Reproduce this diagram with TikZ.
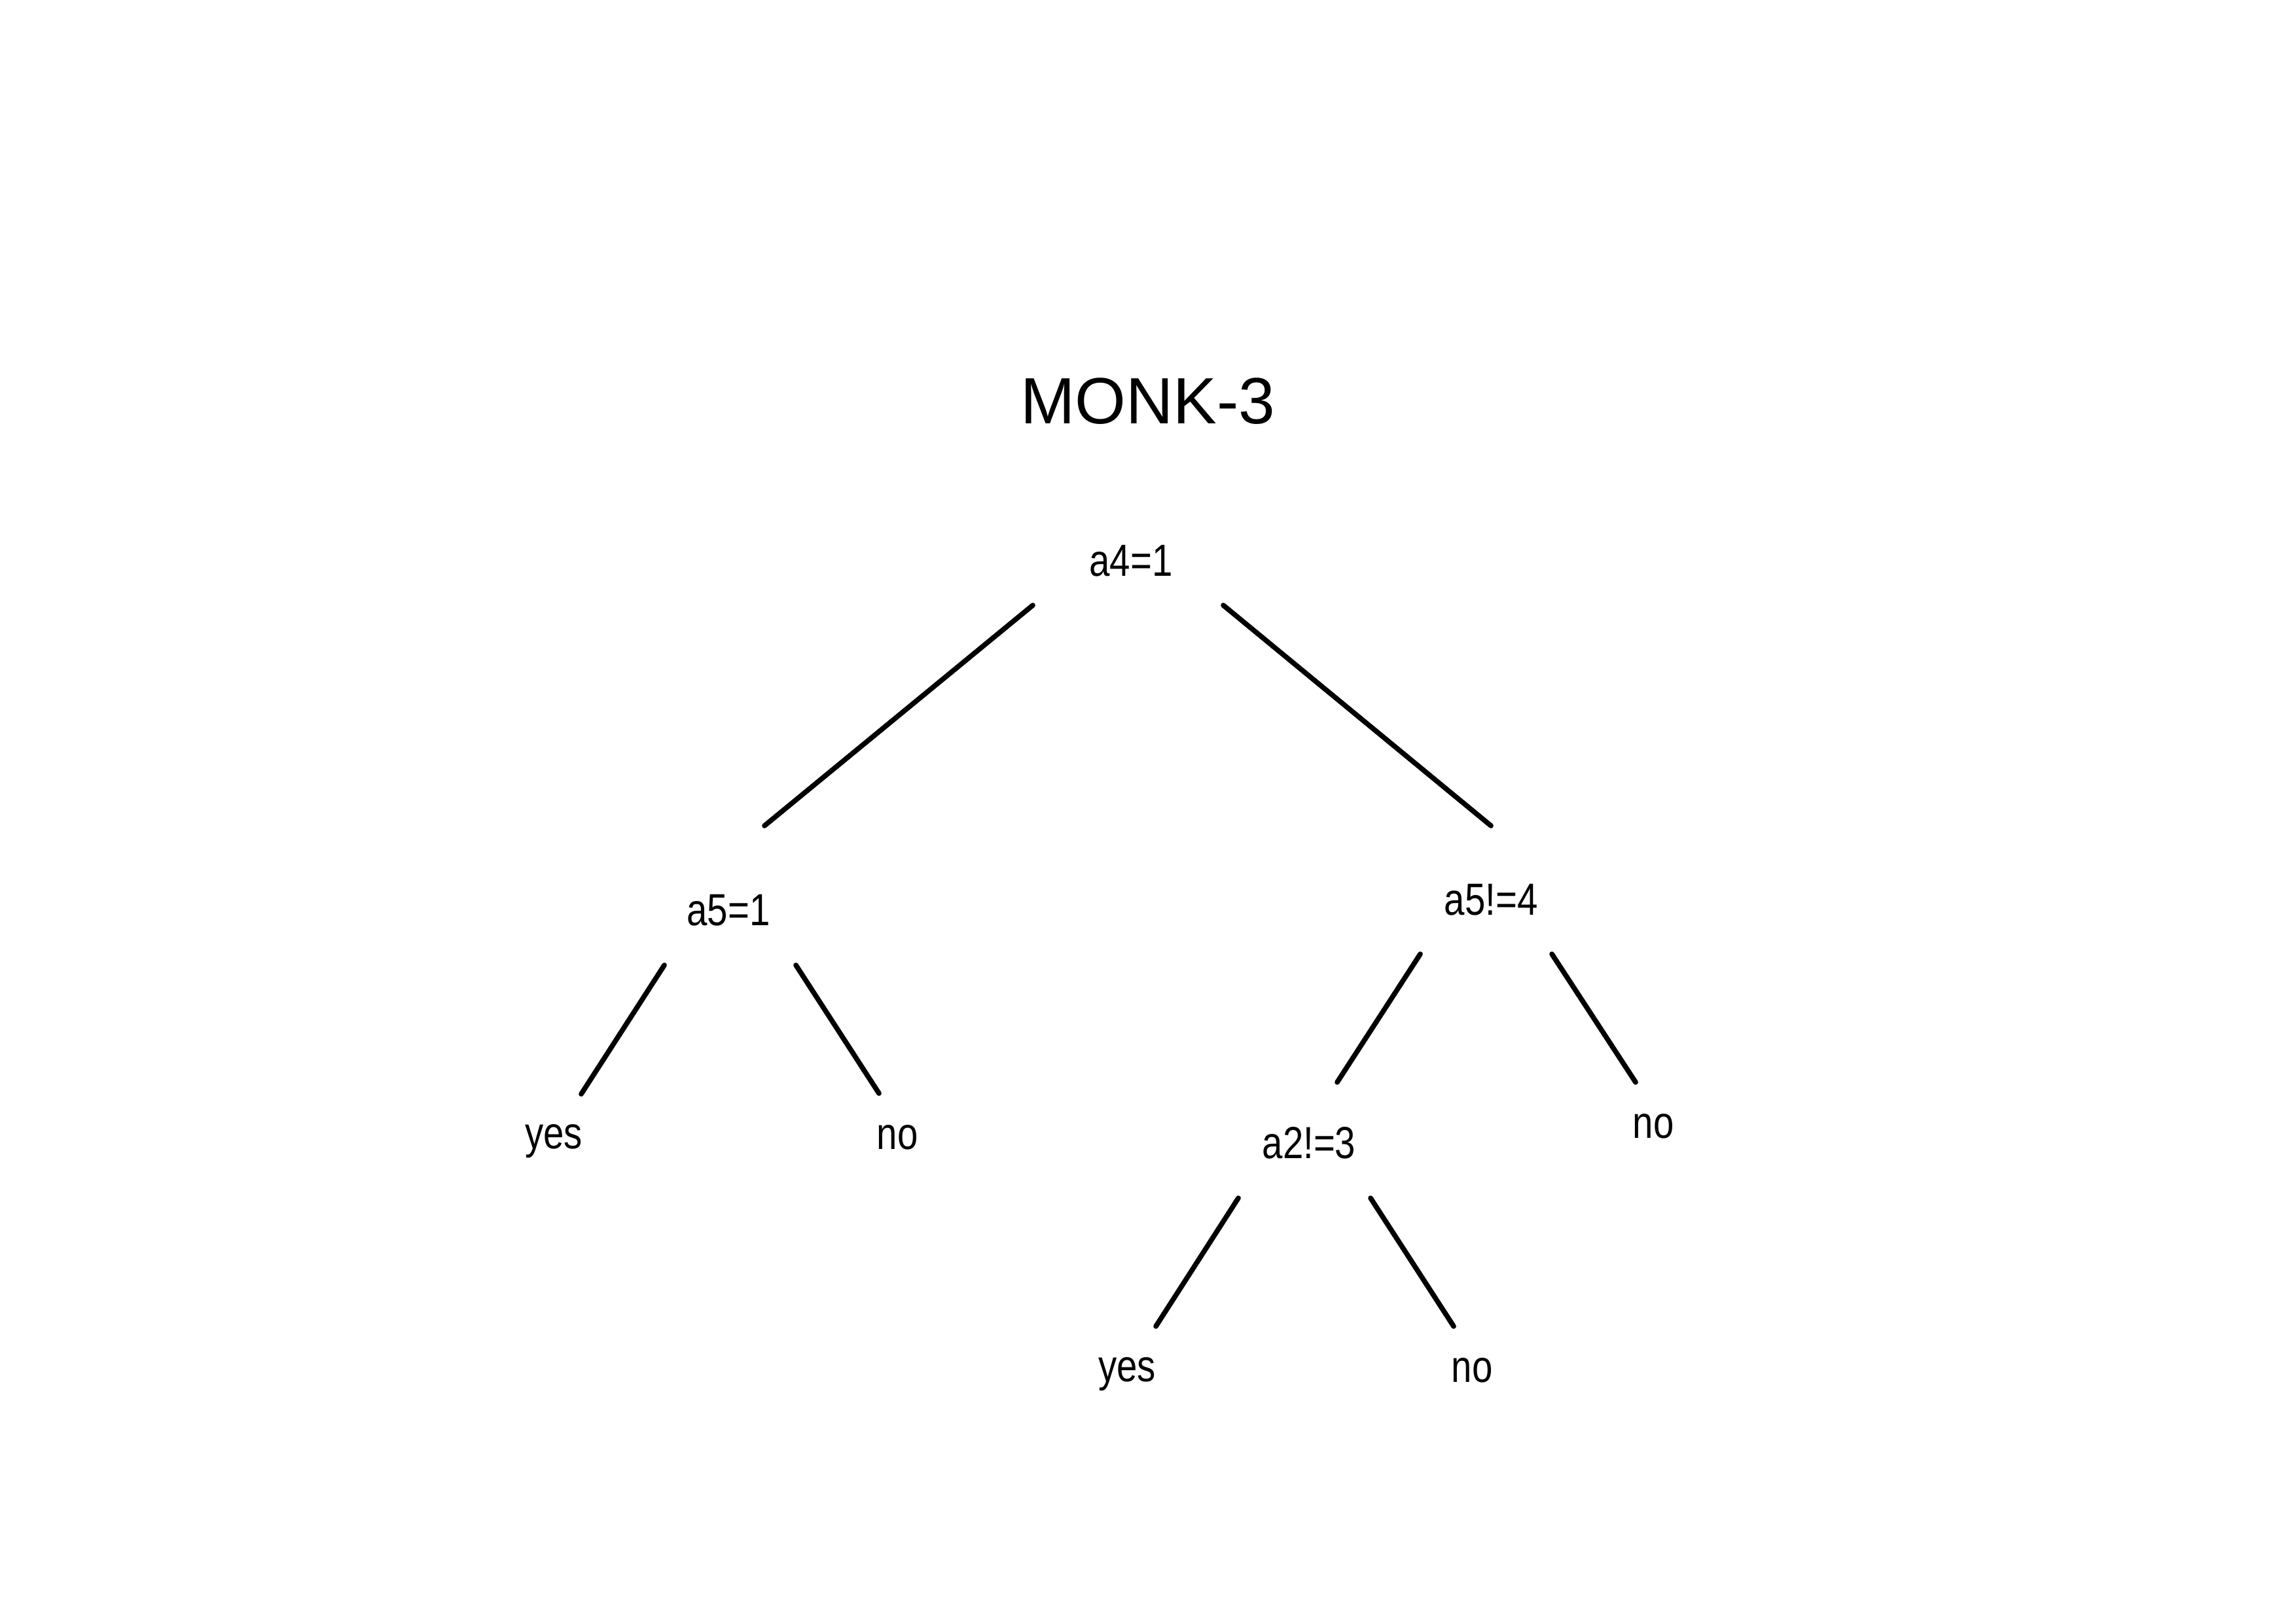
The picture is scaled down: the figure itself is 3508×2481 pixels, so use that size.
\documentclass[tikz,border=0pt]{standalone}
\usepackage{fontspec}
\setmainfont{Liberation Sans}
\newfontfamily\labfont[FakeStretch=0.82]{Liberation Sans}
\begin{document}
\begin{tikzpicture}[x=0.24pt,y=-0.24pt,
  lab/.style={inner sep=0pt,anchor=base,font=\labfont\fontsize{16.5}{18}\selectfont},
  ttl/.style={inner sep=0pt,anchor=base,font=\fontsize{24}{28}\selectfont},
  edge/.style={line width=1.85pt,line cap=round}]
\useasboundingbox[fill=white] (0,0) rectangle (3508,2481);
% texts
\node[ttl] (title) at (1754,647) {MONK-3};
\node[lab] (a4) at (1728,880) {a4=1};
\node[lab] (a5) at (1113,1414) {a5=1};
\node[lab] (a5n) at (2278,1398) {a5!=4};
\node[lab] (yes1) at (846,1755) {yes};
\node[lab] (no1) at (1371,1756) {no};
\node[lab] (a2n) at (2000,1770) {a2!=3};
\node[lab] (no2) at (2526,1739) {no};
\node[lab] (yes2) at (1722,2111) {yes};
\node[lab] (no3) at (2249,2112) {no};
% connector end points
\coordinate (a4L) at (1578,925);
\coordinate (a4R) at (1869,925);
\coordinate (a5T) at (1168,1262);
\coordinate (a5nT) at (2278,1262);
\coordinate (a5L) at (1015,1475);
\coordinate (a5R) at (1216,1475);
\coordinate (yes1T) at (888,1672);
\coordinate (no1T) at (1343,1671);
\coordinate (a5nL) at (2170,1458);
\coordinate (a5nR) at (2371,1458);
\coordinate (a2nT) at (2043,1654);
\coordinate (no2T) at (2499,1654);
\coordinate (a2nL) at (1892,1831);
\coordinate (a2nR) at (2094,1831);
\coordinate (yes2T) at (1766,2027);
\coordinate (no3T) at (2221,2027);
% connectors
\draw[edge] (a4L) -- (a5T);
\draw[edge] (a4R) -- (a5nT);
\draw[edge] (a5L) -- (yes1T);
\draw[edge] (a5R) -- (no1T);
\draw[edge] (a5nL) -- (a2nT);
\draw[edge] (a5nR) -- (no2T);
\draw[edge] (a2nL) -- (yes2T);
\draw[edge] (a2nR) -- (no3T);
\end{tikzpicture}
\end{document}
